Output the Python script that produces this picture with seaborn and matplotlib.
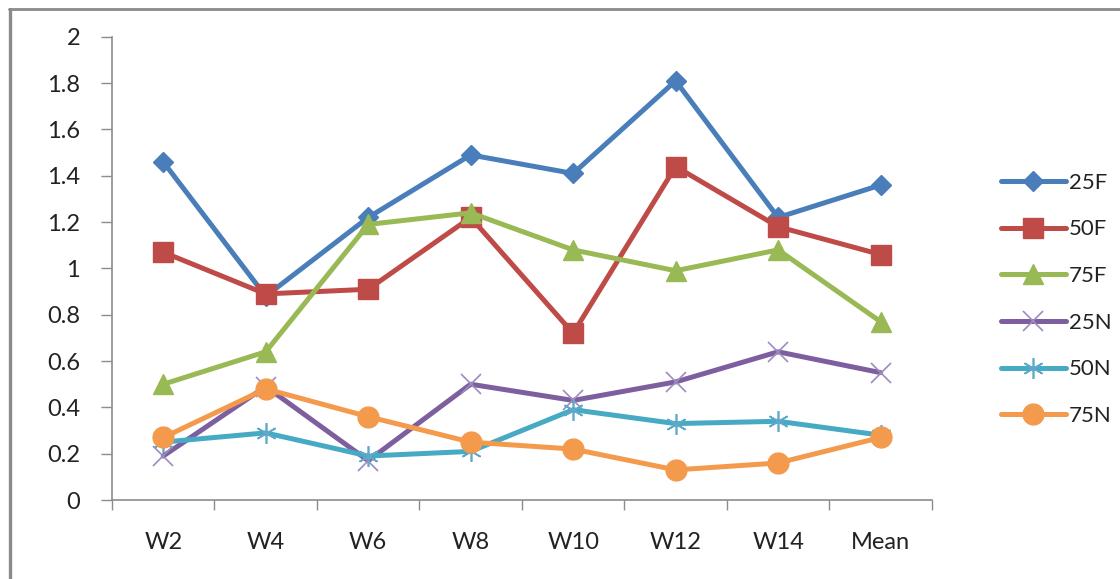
import matplotlib
matplotlib.use("Agg")
import matplotlib.pyplot as plt
from matplotlib.lines import Line2D
import seaborn as sns
import pandas as pd

weeks = ["W2", "W4", "W6", "W8", "W10", "W12", "W14", "Mean"]
s25F = [1.46, 0.88, 1.22, 1.49, 1.41, 1.81, 1.22, 1.36]
s50F = [1.07, 0.89, 0.91, 1.22, 0.72, 1.44, 1.18, 1.06]
s75F = [0.50, 0.64, 1.19, 1.24, 1.08, 0.99, 1.08, 0.77]
s25N = [0.19, 0.49, 0.17, 0.50, 0.43, 0.51, 0.64, 0.55]
s50N = [0.25, 0.29, 0.19, 0.21, 0.39, 0.33, 0.34, 0.28]
s75N = [0.27, 0.48, 0.36, 0.25, 0.22, 0.13, 0.16, 0.27]
series_names = ["25F", "50F", "75F", "25N", "50N", "75N"]
y_ticks = [0, 0.2, 0.4, 0.6, 0.8, 1, 1.2, 1.4, 1.6, 1.8, 2]
y_tick_labels = ["0", "0.2", "0.4", "0.6", "0.8", "1", "1.2", "1.4", "1.6", "1.8", "2"]

values = [s25F, s50F, s75F, s25N, s50N, s75N]
df = pd.DataFrame(
    [(w, v, name) for name, vals in zip(series_names, values) for w, v in zip(weeks, vals)],
    columns=["week", "value", "series"],
)

styles = {
    "25F": dict(color="#4A7EBB", marker="D", ms=10, mfc="#4A7EBB", mec="#4A7EBB", mew=1),
    "50F": dict(color="#BE4B48", marker="s", ms=15, mfc="#BE4B48", mec="#BE4B48", mew=1),
    "75F": dict(color="#98B954", marker="^", ms=15, mfc="#98B954", mec="#98B954", mew=1),
    "25N": dict(color="#7D5FA0", marker="x", ms=14, mfc="none", mec="#9C8CC0", mew=1.2),
    "50N": dict(color="#46AAC5", marker=(6, 2, 0), ms=15, mfc="none", mec="#5FA8C8", mew=1.2),
    "75N": dict(color="#F39A4C", marker="o", ms=15, mfc="#F39A4C", mec="#F39A4C", mew=1),
}

sns.set_theme(style="white")
plt.rcParams["font.family"] = ["Lato", "DejaVu Sans"]

fig = plt.figure(figsize=(11.2, 5.79), dpi=100)
ax = fig.add_axes([0.1, 0.1364, 0.732, 0.8])

for name in series_names:
    st = styles[name]
    sub = df[df["series"] == name]
    sns.lineplot(
        data=sub, x="week", y="value", ax=ax, sort=False,
        color=st["color"], linewidth=3.6, marker=st["marker"], markersize=st["ms"],
        markerfacecolor=st["mfc"], markeredgecolor=st["mec"], markeredgewidth=st["mew"],
        legend=False,
    )

ax.set_xlim(-0.5, len(weeks) - 0.5)
ax.set_ylim(0, 2)
ax.set_yticks(y_ticks)
ax.set_yticklabels(y_tick_labels)
ax.set_xticks(range(len(weeks)))
ax.set_xticklabels(weeks)
ax.set_xticks([i - 0.5 for i in range(len(weeks) + 1)], minor=True)
ax.set_xlabel("")
ax.set_ylabel("")

gray = "#8C8C8C"
for side in ["top", "right"]:
    ax.spines[side].set_visible(False)
for side in ["left", "bottom"]:
    ax.spines[side].set_color(gray)
    ax.spines[side].set_linewidth(1.2)

label_size = 17
ax.tick_params(axis="x", which="major", length=0, pad=23, labelsize=label_size, labelcolor="#222222")
ax.tick_params(axis="x", which="minor", length=7, width=1, color=gray, direction="out", bottom=True)
ax.tick_params(axis="y", length=8, width=1, color=gray, direction="out", left=True,
               pad=15, labelsize=label_size, labelcolor="#222222")

handles = []
for name in series_names:
    st = styles[name]
    handles.append(Line2D([], [], color=st["color"], linewidth=3.6, marker=st["marker"],
                          markersize=st["ms"], markerfacecolor=st["mfc"],
                          markeredgecolor=st["mec"], markeredgewidth=st["mew"]))
fig.legend(handles, series_names, loc="center left", bbox_to_anchor=(0.876, 0.483),
           frameon=False, fontsize=16, handlelength=2.9, labelspacing=1.2,
           handletextpad=0.15, labelcolor="#222222")

# outer frame along the top and left edges
fig.add_artist(Line2D([0.008, 1.0], [1 - 9 / 579, 1 - 9 / 579], transform=fig.transFigure,
                      color="#8A8A8A", linewidth=2))
fig.add_artist(Line2D([9.5 / 1120, 9.5 / 1120], [0, 1 - 9 / 579], transform=fig.transFigure,
                      color="#8A8A8A", linewidth=2.4))

fig.savefig("out.png", dpi=100)
